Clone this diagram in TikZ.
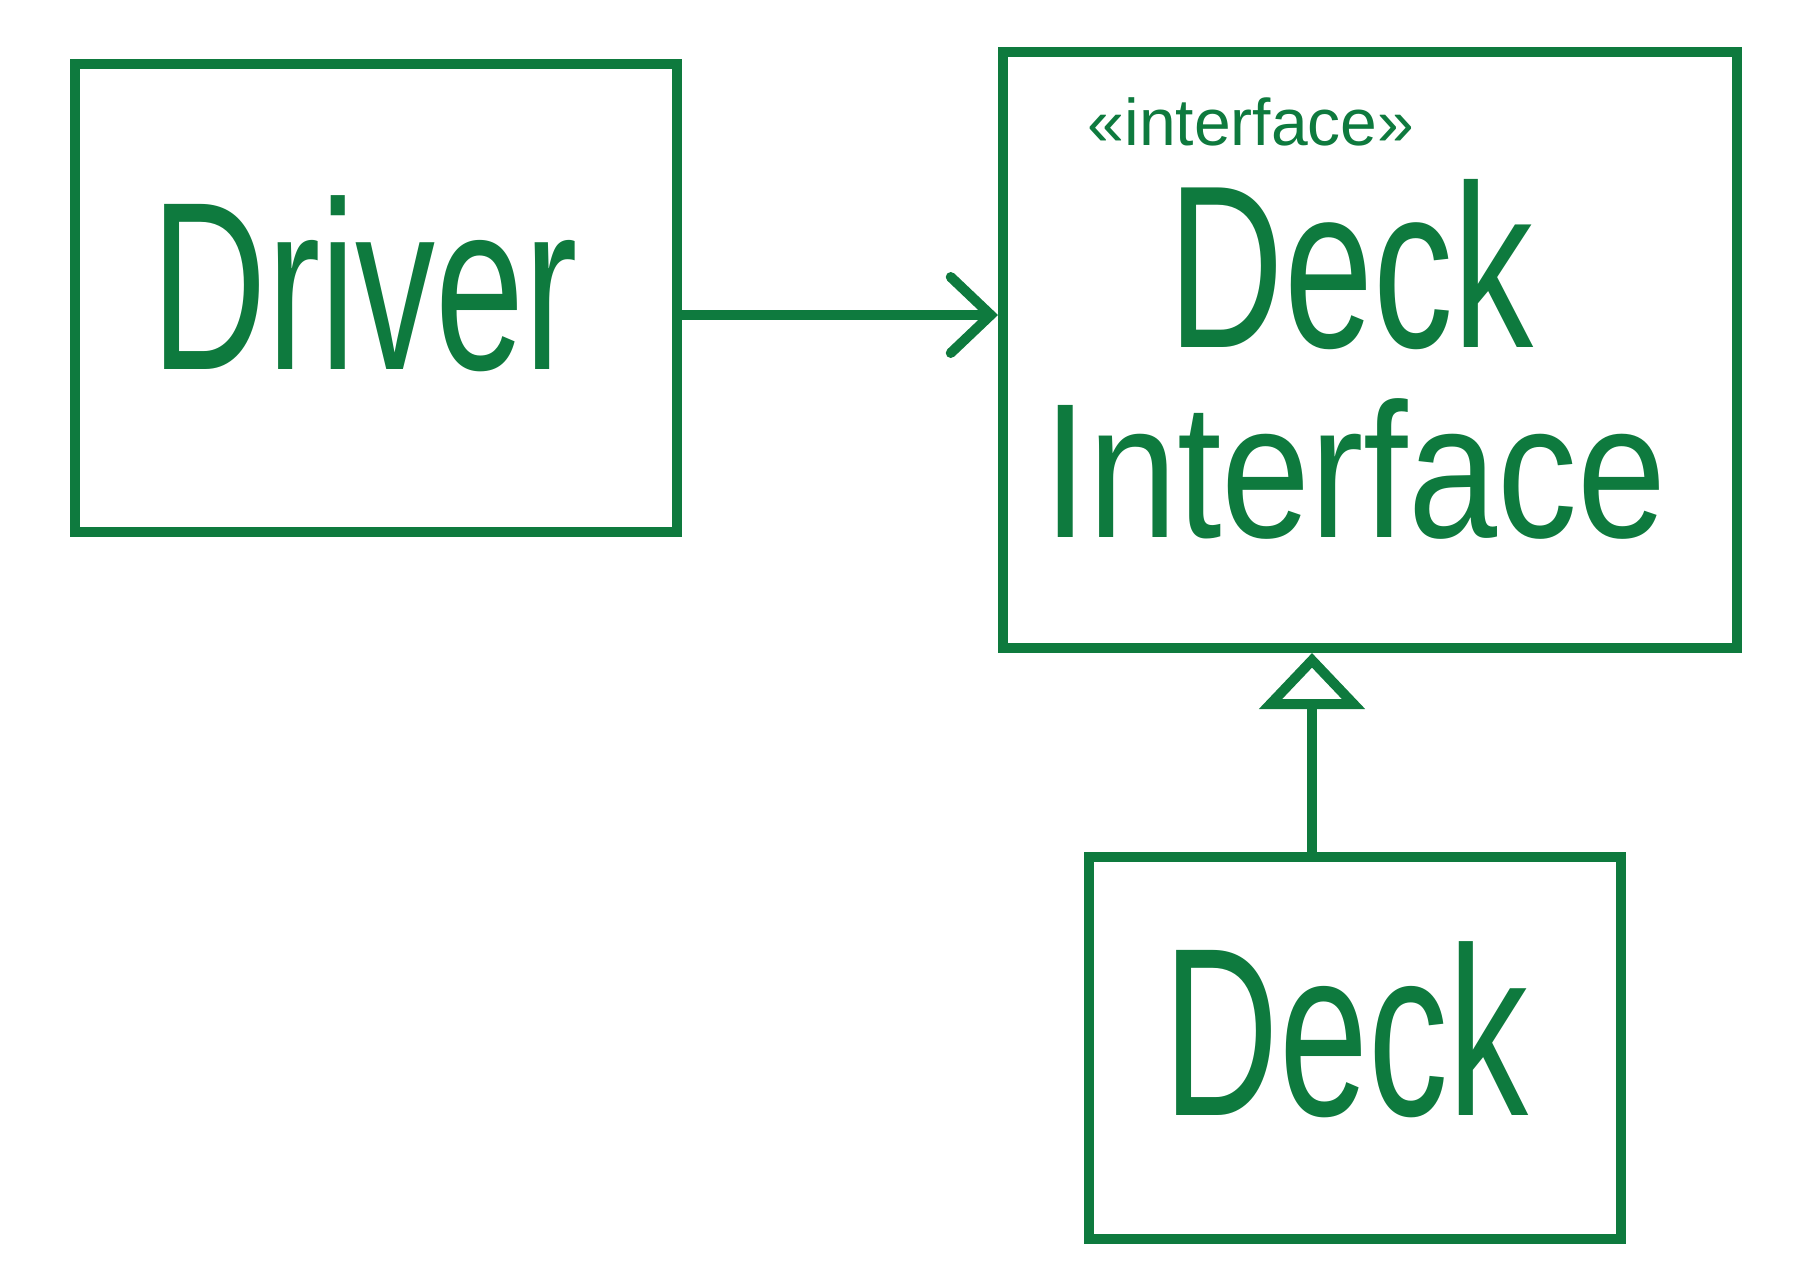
\documentclass[tikz,border=0pt]{standalone}
\usepackage{fontspec}
\setmainfont{Liberation Sans}
\usepackage{xcolor}
\usepackage{tikz}
\usetikzlibrary{arrows.meta}

\definecolor{ink}{HTML}{0E7A3E}
\newcommand{\tall}[2][1.5]{\scalebox{1}[#1]{#2}}

\begin{document}
\begin{tikzpicture}[
  x = 0.5pt, y = -0.5pt,
  box/.style = {draw = ink, line width = 5pt, inner sep = 0pt},
  handtext/.style = {text = ink, inner sep = 0pt, font = \fontsize{80}{80}\selectfont},
  stereo/.style = {text = ink, inner sep = 0pt, font = \fontsize{33}{33}\selectfont},
  wire/.style = {draw = ink, line width = 5pt, line cap = round}
  ]
  \useasboundingbox (0,0) rectangle (1816,1286);
  % boxes
  \node[box, minimum width = 301pt, minimum height = 234pt] (driver) at (376,298) {};
  \node[box, minimum width = 367pt, minimum height = 298pt] (deckif) at (1370,350) {};
  \node[box, minimum width = 266pt, minimum height = 191pt] (deck) at (1355,1048) {};
  % texts
  \node[handtext] (drivertext) at (365,284) {\tall{Driver}};
  \node[stereo] (stereotext) at (1251,122) {«interface»};
  \node[handtext] (deckiftext) at (1351,265) {\tall[1.45]{Deck}};
  \node[handtext] (iftext) at (1355,469) {\tall[1.2]{Interface}};
  \node[handtext] (decktext) at (1346,1030) {\tall{Deck}};
  % connectors
  \draw[wire, -{Straight Barb[length = 20pt, width = 38pt, line cap = round]}]
    (driver.east |- 0,315) -- (deckif.west |- 0,315);
  \draw[wire, -{Triangle[open, fill = white, length = 28pt, width = 52pt]}]
    (deck.north -| 1312,0) -- (deckif.south -| 1312,0);
\end{tikzpicture}
\end{document}
